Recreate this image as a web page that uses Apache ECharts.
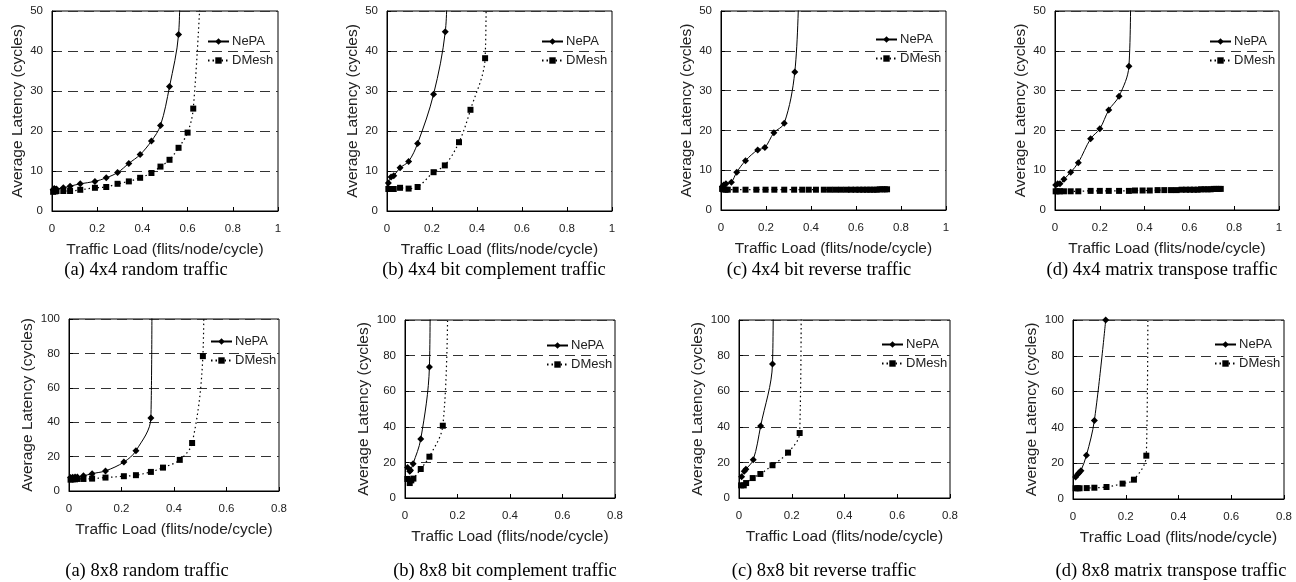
<!DOCTYPE html>
<html>
<head>
<meta charset="utf-8">
<title>NePA vs DMesh latency</title>
<script src="https://cdn.jsdelivr.net/npm/echarts@6/dist/echarts.min.js"></script>
<style>
  html, body { margin: 0; padding: 0; background: #fff; }
  #chart { width: 1296px; height: 582px; }
</style>
</head>
<body>
<div id="chart"></div>
<script>
// [load, latency] pairs.
// a point above the axis top only carries the curve off the chart (no marker drawn)
const nepa4Random = [[0.005, 5.3], [0.01, 5.6], [0.015, 5.4], [0.02, 5.5], [0.05, 5.8], [0.08, 6.2], [0.125, 6.8], [0.19, 7.4], [0.24, 8.3], [0.29, 9.6], [0.34, 11.9], [0.39, 14.1], [0.44, 17.5], [0.48, 21.4], [0.52, 31.1], [0.56, 44.1], [0.566, 56]]
const dmesh4Random = [[0.005, 4.8], [0.01, 5.0], [0.015, 4.9], [0.02, 5.0], [0.05, 5.0], [0.08, 5.0], [0.125, 5.3], [0.19, 5.8], [0.24, 6.0], [0.29, 6.8], [0.34, 7.4], [0.39, 8.3], [0.44, 9.5], [0.48, 11.1], [0.52, 12.8], [0.56, 15.8], [0.6, 19.6], [0.625, 25.6], [0.66, 58]]

const nepa4Complement = [[0.006, 7.0], [0.018, 8.5], [0.03, 8.8], [0.058, 10.8], [0.096, 12.4], [0.136, 16.9], [0.207, 29.2], [0.259, 44.8], [0.267, 56]]
const dmesh4Complement = [[0.006, 5.5], [0.018, 5.5], [0.03, 5.5], [0.058, 5.8], [0.096, 5.6], [0.136, 6.0], [0.207, 9.7], [0.257, 11.4], [0.32, 17.2], [0.371, 25.3], [0.436, 38.2], [0.441, 56]]

const nepa4Reverse = [[0.006, 5.9], [0.012, 6.3], [0.022, 6.6], [0.046, 7.0], [0.07, 9.5], [0.109, 12.4], [0.163, 15.1], [0.195, 15.7], [0.235, 19.4], [0.281, 21.8], [0.328, 34.7], [0.346, 56]]
const dmesh4Reverse = [[0.005, 5.3], [0.01, 5.2], [0.02, 5.1], [0.03, 5.1], [0.065, 5.1], [0.109, 5.1], [0.157, 5.1], [0.198, 5.1], [0.237, 5.1], [0.281, 5.1], [0.325, 5.1], [0.361, 5.1], [0.39, 5.1], [0.422, 5.1], [0.457, 5.1], [0.484, 5.1], [0.509, 5.1], [0.533, 5.1], [0.558, 5.1], [0.578, 5.1], [0.598, 5.1], [0.615, 5.1], [0.632, 5.1], [0.648, 5.1], [0.663, 5.1], [0.678, 5.1], [0.692, 5.1], [0.705, 5.2], [0.717, 5.2], [0.728, 5.2], [0.738, 5.2]]

const nepa4Transpose = [[0.003, 6.3], [0.012, 6.6], [0.022, 6.6], [0.04, 7.7], [0.07, 9.5], [0.104, 11.9], [0.159, 17.9], [0.2, 20.4], [0.24, 25.1], [0.286, 28.6], [0.33, 36.1], [0.338, 56]]
const dmesh4Transpose = [[0.003, 4.7], [0.012, 4.7], [0.022, 4.7], [0.04, 4.7], [0.07, 4.7], [0.104, 4.7], [0.159, 4.8], [0.2, 4.8], [0.24, 4.8], [0.286, 4.8], [0.33, 4.8], [0.357, 4.9], [0.391, 4.9], [0.423, 4.9], [0.458, 5.0], [0.488, 5.0], [0.518, 5.0], [0.543, 5.0], [0.565, 5.1], [0.585, 5.1], [0.603, 5.1], [0.62, 5.1], [0.637, 5.1], [0.652, 5.2], [0.667, 5.2], [0.681, 5.2], [0.695, 5.2], [0.708, 5.3], [0.72, 5.3], [0.731, 5.3], [0.74, 5.3]]

const nepa8Random = [[0.006, 7.8], [0.014, 8.0], [0.023, 8.2], [0.032, 8.2], [0.055, 8.8], [0.088, 10.1], [0.139, 11.7], [0.209, 16.8], [0.255, 23.4], [0.312, 42.5], [0.316, 115]]
const dmesh8Random = [[0.006, 6.6], [0.014, 6.8], [0.023, 6.8], [0.032, 7.0], [0.055, 7.0], [0.088, 7.2], [0.139, 7.8], [0.209, 8.6], [0.255, 9.2], [0.312, 11.1], [0.358, 13.6], [0.422, 18.1], [0.469, 27.9], [0.51, 78.4], [0.514, 115]]

const nepa8Complement = [[0.01, 17.2], [0.018, 15.0], [0.021, 15.6], [0.031, 19.3], [0.06, 33.1], [0.093, 73.6], [0.096, 115]]
const dmesh8Complement = [[0.009, 10.7], [0.018, 8.4], [0.024, 9.9], [0.032, 10.9], [0.06, 16.3], [0.093, 23.2], [0.144, 40.6], [0.163, 115]]

const nepa8Reverse = [[0.01, 12.0], [0.02, 15.0], [0.026, 16.1], [0.054, 21.5], [0.082, 40.4], [0.127, 75.3], [0.13, 115]]
const dmesh8Reverse = [[0.008, 7.1], [0.018, 7.1], [0.027, 8.4], [0.052, 11.2], [0.081, 13.5], [0.127, 18.4], [0.186, 25.5], [0.23, 36.5], [0.236, 115]]

const nepa8Transpose = [[0.01, 12.3], [0.018, 13.8], [0.023, 14.7], [0.03, 15.8], [0.051, 24.4], [0.081, 43.9], [0.124, 100]]
const dmesh8Transpose = [[0.01, 6.0], [0.018, 6.0], [0.025, 6.0], [0.052, 6.1], [0.081, 6.3], [0.127, 6.7], [0.188, 8.6], [0.231, 10.8], [0.278, 24.2], [0.284, 115]]

const xTicks4 = [0, 0.2, 0.4, 0.6, 0.8, 1]
const xTicks8 = [0, 0.2, 0.4, 0.6, 0.8]
const yTicks4 = [0, 10, 20, 30, 40, 50]
const yTicks8 = [0, 20, 40, 60, 80, 100]

const captions = [
  '(a) 4x4 random traffic', '(b) 4x4 bit complement traffic',
  '(c) 4x4 bit reverse traffic', '(d) 4x4 matrix transpose traffic',
  '(a) 8x8 random traffic', '(b) 8x8 bit complement traffic',
  '(c) 8x8 bit reverse traffic', '(d) 8x8 matrix transpose traffic'
]

// layout of each panel: plot box [left, top, right, bottom], legend [left, top], caption centre
const panels = [
  { nepa: nepa4Random, dmesh: dmesh4Random, xt: xTicks4, yt: yTicks4, box: [52, 11, 278, 211], lg: [207, 35], cap: [146, 270], nameGap: 26 },
  { nepa: nepa4Complement, dmesh: dmesh4Complement, xt: xTicks4, yt: yTicks4, box: [387, 11, 612, 211], lg: [541, 35], cap: [494, 270], nameGap: 26 },
  { nepa: nepa4Reverse, dmesh: dmesh4Reverse, xt: xTicks4, yt: yTicks4, box: [721, 11, 946, 210], lg: [875, 33], cap: [819, 270], nameGap: 26 },
  { nepa: nepa4Transpose, dmesh: dmesh4Transpose, xt: xTicks4, yt: yTicks4, box: [1055, 11, 1279, 210], lg: [1209, 35], cap: [1162, 270], nameGap: 26 },
  { nepa: nepa8Random, dmesh: dmesh8Random, xt: xTicks8, yt: yTicks8, box: [69, 319, 279, 491], lg: [210, 335], cap: [147, 571], nameGap: 33 },
  { nepa: nepa8Complement, dmesh: dmesh8Complement, xt: xTicks8, yt: yTicks8, box: [405, 320, 615, 498], lg: [546, 339], cap: [505, 571], nameGap: 33 },
  { nepa: nepa8Reverse, dmesh: dmesh8Reverse, xt: xTicks8, yt: yTicks8, box: [739, 320, 950, 498], lg: [881, 338], cap: [824, 571], nameGap: 33 },
  { nepa: nepa8Transpose, dmesh: dmesh8Transpose, xt: xTicks8, yt: yTicks8, box: [1073, 320, 1284, 499], lg: [1214, 338], cap: [1171, 571], nameGap: 33 }
]

const sans = '"Liberation Sans", Arial, sans-serif'
const ink = '#222'

// hide the marker of points that only continue the line past the top
function toData(pairs, yMax) {
  return pairs.map(p => p[1] > yMax ? { value: p, symbol: 'none' } : { value: p })
}

const grid = []
const xAxis = []
const yAxis = []
const series = []
const legend = []
const graphic = []

panels.forEach((p, i) => {
  const xMax = p.xt[p.xt.length - 1]
  const yMax = p.yt[p.yt.length - 1]
  grid.push({
    left: p.box[0],
    top: p.box[1],
    width: p.box[2] - p.box[0],
    height: p.box[3] - p.box[1],
    show: true,
    borderColor: '#000',
    borderWidth: 1
  })
  xAxis.push({
    gridIndex: i,
    type: 'value',
    min: 0,
    max: xMax,
    interval: 0.2,
    name: 'Traffic Load (flits/node/cycle)',
    nameLocation: 'middle',
    nameGap: 31,
    nameTextStyle: { fontFamily: sans, fontSize: 15.5, color: ink },
    axisLine: { lineStyle: { color: '#000', width: 1 } },
    axisTick: { inside: true, length: 4, lineStyle: { color: '#000' } },
    axisLabel: { margin: 12, fontFamily: sans, fontSize: 11.5, color: ink },
    splitLine: { show: false }
  })
  yAxis.push({
    gridIndex: i,
    type: 'value',
    min: 0,
    max: yMax,
    interval: p.yt[1] - p.yt[0],
    name: 'Average Latency (cycles)',
    nameLocation: 'middle',
    nameGap: p.nameGap,
    nameTextStyle: { fontFamily: sans, fontSize: 15.5, color: ink },
    axisLine: { show: true, lineStyle: { color: '#000', width: 1 } },
    axisTick: { show: true, inside: true, length: 4, lineStyle: { color: '#000' } },
    axisLabel: { margin: 9, fontFamily: sans, fontSize: 11.5, color: ink },
    splitLine: { show: true, lineStyle: { color: '#333', width: 1.2, type: [10, 6] } }
  })
  series.push({
    name: 'NePA',
    type: 'line',
    xAxisIndex: i,
    yAxisIndex: i,
    data: toData(p.nepa, yMax),
    smooth: 0.35,
    clip: true,
    symbol: 'diamond',
    symbolSize: 7,
    itemStyle: { color: '#000' },
    lineStyle: { color: '#000', width: 1 },
    emphasis: { disabled: true }
  })
  series.push({
    name: 'DMesh',
    type: 'line',
    xAxisIndex: i,
    yAxisIndex: i,
    data: toData(p.dmesh, yMax),
    smooth: 0.35,
    clip: true,
    symbol: 'rect',
    symbolSize: 6,
    itemStyle: { color: '#000' },
    lineStyle: { color: '#000', width: 1.2, type: [1.5, 3] },
    emphasis: { disabled: true }
  })
  legend.push({
    orient: 'vertical',
    left: p.lg[0],
    top: p.lg[1],
    itemWidth: 21,
    itemHeight: 8,
    itemGap: 6,
    selectedMode: false,
    padding: 0,
    textStyle: { fontFamily: sans, fontSize: 13, color: ink, padding: [0, 0, 0, -2] },
    data: ['NePA', 'DMesh']
  })
  graphic.push({
    type: 'text',
    x: p.cap[0],
    y: p.cap[1],
    style: {
      text: captions[i],
      fill: '#000',
      font: '18.5px "Liberation Serif", "Times New Roman", serif',
      textAlign: 'center',
      textVerticalAlign: 'middle'
    }
  })
})

const chart = echarts.init(document.getElementById('chart'))
chart.setOption({
  backgroundColor: '#fff',
  animation: false,
  grid: grid,
  xAxis: xAxis,
  yAxis: yAxis,
  legend: legend,
  graphic: graphic,
  series: series
})
</script>
</body>
</html>
